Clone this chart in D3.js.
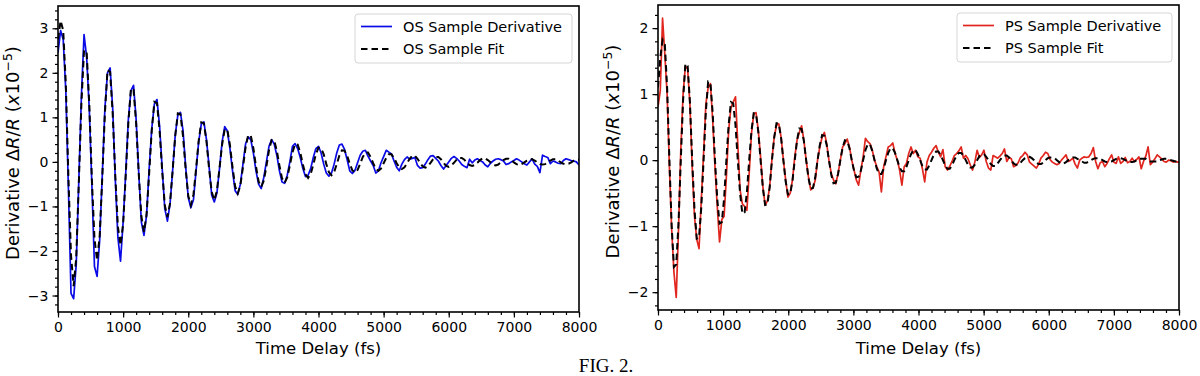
<!DOCTYPE html>
<html>
<head>
<meta charset="utf-8">
<script src="https://cdn.jsdelivr.net/npm/d3@7"></script>
<style>
  body { margin: 0; background: #fff; }
  text { font-family: "DejaVu Sans", sans-serif; fill: #000; }
</style>
</head>
<body>
<div id="container"></div>
<script>
const WIDTH = 1200;
const HEIGHT = 376;

// time delay axis (fs)
const X_DOMAIN = [0, 8000];
const xTicks = [0, 1000, 2000, 3000, 4000, 5000, 6000, 7000, 8000];
const osYTicks = [-3, -2, -1, 0, 1, 2, 3];
const psYTicks = [-2, -1, 0, 1, 2];

// sample spacing of each series, in fs (first sample at 0 fs)
const OS_STEP = 40;
const PS_STEP = 35;

// OS sample, derivative dR/R (x1e-5)
const osDerivative = [
  2.45, 2.95, 2.75, 1.60, -0.60, -2.95, -3.07, -2.30, -0.40,
  1.50, 2.86, 2.35, 1.20, -0.50, -2.35, -2.57, -1.75, -0.30,
  1.20, 2.00, 2.11, 1.20, -0.40, -1.70, -2.23, -1.35, -0.25,
  0.95, 1.60, 1.72, 0.95, -0.25, -1.35, -1.65, -1.20, -0.15,
  0.75, 1.30, 1.40, 0.80, -0.15, -1.05, -1.33, -0.95, -0.20,
  0.60, 1.05, 1.11, 0.70, -0.10, -0.80, -1.03, -0.85, -0.20,
  0.45, 0.85, 0.90, 0.50, -0.10, -0.75, -0.90, -0.70, -0.15,
  0.45, 0.79, 0.70, 0.30, -0.20, -0.65, -0.73, -0.50, -0.05,
  0.40, 0.56, 0.50, 0.20, -0.20, -0.50, -0.60, -0.35, 0.00,
  0.35, 0.50, 0.40, 0.15, -0.20, -0.45, -0.48, -0.30, 0.00,
  0.35, 0.41, 0.30, 0.10, -0.15, -0.33, -0.30, -0.15, 0.10,
  0.30, 0.35, 0.20, -0.05, -0.25, -0.32, -0.25, -0.05, 0.20,
  0.38, 0.40, 0.28, 0.05, -0.20, -0.26, -0.19, -0.02, 0.15,
  0.24, 0.26, 0.13, 0.02, -0.08, -0.25, -0.20, -0.02, 0.12,
  0.26, 0.22, 0.18, 0.02, -0.12, -0.20, -0.05, 0.05, 0.11,
  0.06, 0.08, 0.10, -0.08, -0.14, -0.13, -0.05, 0.05, 0.13,
  0.14, 0.08, 0.02, -0.08, -0.16, -0.08, 0.00, 0.08, 0.12,
  0.08, 0.02, -0.06, -0.10, -0.13, 0.06, -0.02, 0.04, 0.07,
  0.03, 0.00, -0.07, -0.11, -0.03, 0.02, 0.06, 0.07, 0.05,
  0.02, -0.06, -0.04, 0.00, 0.03, 0.07, 0.04, 0.00, -0.04,
  -0.07, 0.00, 0.07, -0.05, -0.10, -0.24, 0.15, 0.12, 0.10,
  -0.04, 0.02, 0.00, -0.03, -0.04, 0.03, 0.07, 0.05, 0.03,
  0.02, 0.00, -0.07
];

// OS sample, fit
const osFit = [
  2.75, 3.17, 2.95, 1.75, -0.35, -2.10, -2.79, -2.15, -0.45,
  1.33, 2.51, 2.46, 1.31, -0.38, -1.72, -2.21, -1.66, -0.35,
  1.09, 2.06, 2.02, 1.07, -0.32, -1.46, -1.87, -1.40, -0.30,
  0.87, 1.65, 1.62, 0.86, -0.27, -1.22, -1.57, -1.18, -0.25,
  0.72, 1.35, 1.32, 0.70, -0.21, -0.97, -1.24, -0.93, -0.20,
  0.58, 1.09, 1.07, 0.57, -0.16, -0.76, -0.97, -0.73, -0.16,
  0.47, 0.89, 0.87, 0.46, -0.15, -0.67, -0.86, -0.65, -0.14,
  0.39, 0.73, 0.72, 0.38, -0.12, -0.55, -0.71, -0.53, -0.12,
  0.32, 0.60, 0.59, 0.31, -0.10, -0.44, -0.56, -0.42, -0.10,
  0.26, 0.49, 0.48, 0.25, -0.08, -0.37, -0.47, -0.35, -0.08,
  0.21, 0.40, 0.39, 0.21, -0.06, -0.28, -0.36, -0.27, -0.06,
  0.17, 0.32, 0.31, 0.17, -0.05, -0.23, -0.30, -0.23, -0.05,
  0.14, 0.26, 0.25, 0.14, -0.04, -0.19, -0.24, -0.18, -0.04,
  0.11, 0.21, 0.21, 0.11, -0.03, -0.16, -0.20, -0.15, -0.03,
  0.09, 0.17, 0.17, 0.09, -0.03, -0.12, -0.16, -0.12, -0.03,
  0.07, 0.14, 0.14, 0.07, -0.02, -0.10, -0.13, -0.10, -0.02,
  0.06, 0.11, 0.11, 0.06, -0.02, -0.09, -0.11, -0.08, -0.02,
  0.05, 0.09, 0.09, 0.05, -0.02, -0.07, -0.09, -0.07, -0.02,
  0.04, 0.08, 0.08, 0.04, -0.01, -0.06, -0.08, -0.06, -0.01,
  0.04, 0.07, 0.07, 0.04, -0.01, -0.05, -0.07, -0.05, -0.01,
  0.03, 0.06, 0.06, 0.03, -0.01, -0.05, -0.06, -0.05, -0.01,
  0.03, 0.06, 0.06, 0.03, -0.01, -0.04, -0.05, -0.04, -0.01,
  0.03, 0.05, 0.05
];

// PS sample, derivative dR/R (x1e-5)
const psDerivative = [
  0.81, 1.05, 2.15, 1.60, 1.00, -0.10, -1.05, -1.70, -2.08, -1.05,
  0.15, 1.00, 1.42, 1.38, 0.85, -0.10, -0.85, -1.20, -1.34, -0.60,
  0.10, 0.85, 1.10, 1.16, 0.60, -0.10, -0.70, -1.24, -0.90, -0.85,
  -0.25, 0.45, 0.80, 0.88, 0.96, 0.25, -0.45, -0.66, -0.70, -0.76,
  -0.20, 0.40, 0.70, 0.72, 0.45, 0.05, -0.40, -0.68, -0.62, -0.40,
  0.02, 0.35, 0.53, 0.55, 0.35, 0.00, -0.30, -0.56, -0.50, -0.30,
  0.05, 0.30, 0.42, 0.52, 0.30, 0.00, -0.25, -0.45, -0.42, -0.30,
  0.00, 0.20, 0.35, 0.42, 0.25, 0.00, -0.20, -0.30, -0.36, -0.20,
  0.00, 0.20, 0.25, 0.32, 0.20, 0.00, -0.15, -0.30, -0.38, -0.15,
  0.05, 0.33, 0.28, 0.25, 0.15, 0.00, -0.10, -0.18, -0.48, -0.10,
  0.05, 0.20, 0.22, 0.26, 0.10, 0.00, -0.15, -0.38, -0.10, -0.05,
  0.10, 0.20, 0.10, 0.15, 0.05, 0.03, -0.13, -0.33, -0.03, 0.07,
  0.12, 0.18, 0.22, 0.12, 0.05, 0.16, -0.10, -0.15, -0.09, -0.02,
  0.07, 0.10, 0.14, 0.20, 0.03, 0.07, 0.02, -0.07, -0.15, -0.03,
  0.15, 0.04, 0.08, 0.15, -0.02, -0.12, -0.15, 0.07, 0.05, 0.03,
  0.06, 0.10, 0.17, -0.02, 0.04, 0.02, -0.10, -0.08, -0.04, 0.04,
  0.07, 0.12, 0.08, -0.03, -0.06, -0.09, -0.12, -0.06, 0.03, 0.07,
  0.12, 0.10, 0.01, -0.03, -0.05, -0.07, -0.05, 0.00, 0.04, 0.08,
  -0.02, 0.00, 0.03, -0.06, -0.12, 0.00, 0.03, 0.05, 0.04, 0.05,
  0.10, 0.19, -0.02, -0.13, -0.04, -0.02, -0.10, -0.05, 0.02, 0.08,
  -0.03, -0.05, 0.05, -0.05, -0.02, 0.04, -0.04, -0.02, 0.03, -0.02,
  0.01, 0.05, -0.13, -0.02, 0.06, 0.20, -0.07, -0.03, 0.02, 0.08,
  0.05, 0.02, -0.02, -0.03, 0.00, -0.01, -0.03, -0.02, -0.03, -0.03
];

// PS sample, fit
const psFit = [
  1.10, 1.55, 1.82, 1.75, 1.10, 0.00, -1.00, -1.62, -1.58, -0.95,
  0.00, 0.90, 1.46, 1.43, 0.88, 0.00, -0.74, -1.19, -1.17, -0.71,
  0.00, 0.74, 1.19, 1.17, 0.71, 0.00, -0.59, -0.96, -0.94, -0.58,
  0.00, 0.54, 0.88, 0.86, 0.53, 0.00, -0.50, -0.81, -0.79, -0.49,
  0.00, 0.44, 0.71, 0.70, 0.43, 0.00, -0.42, -0.68, -0.67, -0.41,
  0.00, 0.35, 0.56, 0.55, 0.34, 0.00, -0.32, -0.52, -0.51, -0.31,
  0.00, 0.30, 0.48, 0.47, 0.29, 0.00, -0.27, -0.43, -0.42, -0.26,
  0.00, 0.23, 0.38, 0.37, 0.23, 0.00, -0.22, -0.35, -0.34, -0.21,
  0.00, 0.19, 0.30, 0.29, 0.18, 0.00, -0.16, -0.26, -0.25, -0.16,
  0.00, 0.15, 0.24, 0.24, 0.14, 0.00, -0.13, -0.21, -0.21, -0.13,
  0.00, 0.11, 0.18, 0.18, 0.11, 0.00, -0.11, -0.17, -0.17, -0.10,
  0.00, 0.09, 0.15, 0.15, 0.09, 0.00, -0.09, -0.14, -0.14, -0.08,
  0.00, 0.08, 0.13, 0.13, 0.08, 0.00, -0.08, -0.13, -0.13, -0.08,
  0.00, 0.07, 0.11, 0.11, 0.07, 0.00, -0.07, -0.11, -0.11, -0.07,
  0.00, 0.06, 0.09, 0.09, 0.05, 0.00, -0.06, -0.09, -0.09, -0.05,
  0.00, 0.04, 0.07, 0.07, 0.04, 0.00, -0.05, -0.07, -0.07, -0.04,
  0.00, 0.03, 0.05, 0.05, 0.03, 0.00, -0.04, -0.06, -0.06, -0.04,
  0.00, 0.03, 0.04, 0.04, 0.03, 0.00, -0.03, -0.05, -0.05, -0.03,
  0.00, 0.02, 0.04, 0.04, 0.02, 0.00, -0.02, -0.04, -0.04, -0.02,
  0.00, 0.02, 0.03, 0.03, 0.02, 0.00, -0.02, -0.03, -0.03, -0.02,
  0.00, 0.02, 0.03, 0.03, 0.02, 0.00, -0.02, -0.03, -0.03, -0.02,
  0.00, 0.02, 0.02, 0.02, 0.02, 0.00, -0.02, -0.02, -0.02, -0.02,
  0.00, 0.01, 0.02, 0.02, 0.01, 0.00, -0.01, -0.02, -0.02, -0.01
];

const panels = [
  {
    left: 58, top: 6, width: 521, height: 306,
    yDomain: [-3.37, 3.5], yTicks: osYTicks,
    data: osDerivative, fit: osFit, step: OS_STEP,
    color: '#0a0ae6',
    names: ['OS Sample Derivative', 'OS Sample Fit'],
    legend: { x: 355, y: 14, w: 217, h: 49 }
  },
  {
    left: 658, top: 5, width: 521, height: 305,
    yDomain: [-2.27, 2.35], yTicks: psYTicks,
    data: psDerivative, fit: psFit, step: PS_STEP,
    color: '#e0261e',
    names: ['PS Sample Derivative', 'PS Sample Fit'],
    legend: { x: 957, y: 13, w: 215, h: 49 }
  }
];

const svg = d3.select('#container')
              .append('svg')
                .attr('width', WIDTH)
                .attr('height', HEIGHT);

svg.append('rect')
     .attr('width', WIDTH)
     .attr('height', HEIGHT)
     .attr('fill', '#fff');

const styleAxis = (sel, fontSize) => {
    sel.select('.domain').remove();
    sel.selectAll('.tick line').attr('stroke', '#000').attr('stroke-width', 1.2);
    sel.selectAll('.tick text')
       .attr('fill', '#000')
       .style('font-family', '"DejaVu Sans", sans-serif')
       .style('font-size', fontSize);
};

panels.forEach((p, idx) => {
    const g = svg.append('g')
                 .attr('transform', `translate(${p.left}, ${p.top})`);

    const x = d3.scaleLinear().domain(X_DOMAIN).range([0, p.width]);
    const y = d3.scaleLinear().domain(p.yDomain).range([p.height, 0]);

    // minor ticks
    const xMinor = d3.range(X_DOMAIN[0], X_DOMAIN[1] + 1, 200);
    const yMinor = d3.range(Math.ceil(p.yDomain[0] * 5), Math.floor(p.yDomain[1] * 5) + 1)
                     .map(v => v / 5);

    g.append('g')
       .attr('transform', `translate(0, ${p.height})`)
       .call(d3.axisBottom(x).tickValues(xMinor).tickSize(3).tickFormat(''))
       .call(styleAxis, '14px');
    g.append('g')
       .call(d3.axisLeft(y).tickValues(yMinor).tickSize(3).tickFormat(''))
       .call(styleAxis, '14px');

    // major ticks
    g.append('g')
       .attr('transform', `translate(0, ${p.height})`)
       .call(d3.axisBottom(x).tickValues(xTicks).tickSize(5.5).tickPadding(4.5).tickFormat(d3.format('d')))
       .call(styleAxis, '14px');
    g.append('g')
       .call(d3.axisLeft(y).tickValues(p.yTicks).tickSize(5.5).tickPadding(4).tickFormat(d3.format('d')))
       .call(styleAxis, '14px');

    // clip
    svg.append('clipPath')
         .attr('id', `clip${idx}`)
       .append('rect')
         .attr('width', p.width)
         .attr('height', p.height);

    const plot = g.append('g').attr('clip-path', `url(#clip${idx})`);

    const line = d3.line()
                   .x((d, i) => x(i * p.step))
                   .y(d => y(d));

    plot.append('path')
          .datum(p.data)
          .attr('d', line)
          .attr('fill', 'none')
          .attr('stroke', p.color)
          .attr('stroke-width', 1.7)
          .attr('stroke-linejoin', 'round');

    plot.append('path')
          .datum(p.fit)
          .attr('d', line)
          .attr('fill', 'none')
          .attr('stroke', '#000')
          .attr('stroke-width', 2)
          .attr('stroke-dasharray', '6.5,4');

    // frame
    g.append('rect')
       .attr('width', p.width)
       .attr('height', p.height)
       .attr('fill', 'none')
       .attr('stroke', '#000')
       .attr('stroke-width', 1.6);

    // x label
    g.append('text')
       .attr('x', p.width / 2)
       .attr('y', 354 - p.top)
       .attr('text-anchor', 'middle')
       .style('font-size', '16.5px')
       .text('Time Delay (fs)');

    // y label
    const yl = svg.append('text')
                  .attr('transform', `translate(${p.left - 39}, ${p.top + p.height / 2 - 6}) rotate(-90)`)
                  .attr('text-anchor', 'middle')
                  .style('font-size', '18px');
    yl.append('tspan').text('Derivative ');
    yl.append('tspan').text('\u0394');
    yl.append('tspan').style('font-style', 'italic').text('R');
    yl.append('tspan').text('/');
    yl.append('tspan').style('font-style', 'italic').text('R');
    yl.append('tspan').text(' (');
    yl.append('tspan').style('font-style', 'italic').text('x');
    yl.append('tspan').text('10');
    yl.append('tspan').attr('dy', -7.5).style('font-size', '12.5px').text('\u22125');
    yl.append('tspan').attr('dy', 7.5).text(')');

    // legend
    const lg = svg.append('g').attr('transform', `translate(${p.legend.x}, ${p.legend.y})`);
    lg.append('rect')
        .attr('width', p.legend.w)
        .attr('height', p.legend.h)
        .attr('rx', 3)
        .attr('fill', '#fff')
        .attr('fill-opacity', 0.8)
        .attr('stroke', '#d5d5d5')
        .attr('stroke-width', 1);

    const rows = [
        { name: p.names[0], color: p.color, dash: null, width: 1.7 },
        { name: p.names[1], color: '#000', dash: '6.5,4', width: 2 }
    ];
    rows.forEach((r, i) => {
        const cy = 12.5 + i * 22.5;
        lg.append('line')
            .attr('x1', 6).attr('x2', 37)
            .attr('y1', cy).attr('y2', cy)
            .attr('stroke', r.color)
            .attr('stroke-width', r.width)
            .attr('stroke-dasharray', r.dash);
        lg.append('text')
            .attr('x', 48)
            .attr('y', cy + 5.2)
            .style('font-size', '14.5px')
            .text(r.name);
    });
});

// figure caption at the bottom edge
svg.append('text')
     .attr('x', 606)
     .attr('y', 371.5)
     .attr('text-anchor', 'middle')
     .style('font-family', '"Liberation Serif", "Times New Roman", serif')
     .style('font-size', '19px')
     .text('FIG. 2.');
</script>
</body>
</html>
